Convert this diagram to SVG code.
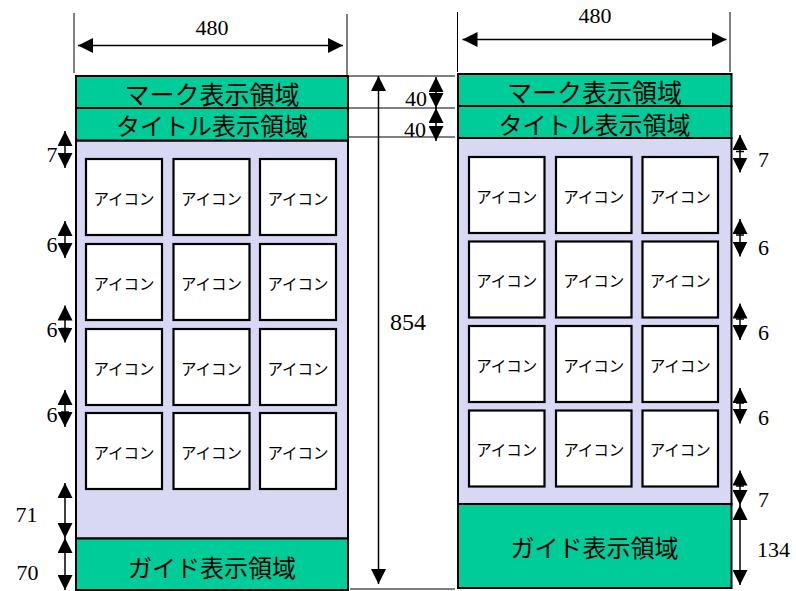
<svg xmlns="http://www.w3.org/2000/svg" width="796" height="591" viewBox="0 0 796 591">
<style>
.bg{fill:#ffffff}
.green{fill:#00CC99;stroke:#000;stroke-width:2}
.blue{fill:#D8D8F5;stroke:#000;stroke-width:2}
.ibox{fill:#ffffff;stroke:#000;stroke-width:2.2}
.itxt{font-family:"Noto Sans CJK JP","Noto Sans",sans-serif;font-size:15.5px;text-anchor:middle;fill:#000}
.area{font-family:"Noto Sans CJK JP","Noto Sans",sans-serif;font-size:24px;text-anchor:middle;fill:#000}
.mk{font-size:25px}
.num{font-family:"Liberation Serif","Times New Roman",serif;font-size:22px;fill:#000}
.ext{stroke:#000;stroke-width:1;fill:none}
.dim{stroke:#000;stroke-width:1.5;fill:none;marker-start:url(#ah);marker-end:url(#ah)}
.dim1{stroke:#000;stroke-width:1.5;fill:none}
</style>
<defs>
<marker id="ah" viewBox="0 0 15 15" refX="15" refY="7.5" markerWidth="15" markerHeight="15" markerUnits="userSpaceOnUse" orient="auto-start-reverse"><path d="M0,0 L15,7.5 L0,15 z" fill="#000"/></marker>
</defs>
<rect class="bg" x="0" y="0" width="796" height="591"/>

<g id="left-screen">
  <g id="left-body"><rect class="blue" x="76" y="140.5" width="272" height="398"/></g>
  <g id="left-mark"><rect class="green" x="76" y="76" width="272" height="32"/><text class="area mk" x="212" y="104">マーク表示領域</text></g>
  <g id="left-title"><rect class="green" x="76" y="108" width="272" height="32.5"/><text class="area" x="212" y="135">タイトル表示領域</text></g>
  <g id="left-guide"><rect class="green" x="76" y="538.5" width="272" height="51.5"/><text class="area" x="212" y="577">ガイド表示領域</text></g>
  <g id="left-icons">
    <g id="L11"><rect class="ibox" x="86" y="159" width="76" height="76"/><text class="itxt" x="124" y="204.5">アイコン</text></g>
    <g id="L12"><rect class="ibox" x="173.5" y="159" width="76" height="76"/><text class="itxt" x="211.5" y="204.5">アイコン</text></g>
    <g id="L13"><rect class="ibox" x="260" y="159" width="76" height="76"/><text class="itxt" x="298" y="204.5">アイコン</text></g>
    <g id="L21"><rect class="ibox" x="86" y="244" width="76" height="76"/><text class="itxt" x="124" y="289.5">アイコン</text></g>
    <g id="L22"><rect class="ibox" x="173.5" y="244" width="76" height="76"/><text class="itxt" x="211.5" y="289.5">アイコン</text></g>
    <g id="L23"><rect class="ibox" x="260" y="244" width="76" height="76"/><text class="itxt" x="298" y="289.5">アイコン</text></g>
    <g id="L31"><rect class="ibox" x="86" y="329" width="76" height="76"/><text class="itxt" x="124" y="374.5">アイコン</text></g>
    <g id="L32"><rect class="ibox" x="173.5" y="329" width="76" height="76"/><text class="itxt" x="211.5" y="374.5">アイコン</text></g>
    <g id="L33"><rect class="ibox" x="260" y="329" width="76" height="76"/><text class="itxt" x="298" y="374.5">アイコン</text></g>
    <g id="L41"><rect class="ibox" x="86" y="413" width="76" height="76"/><text class="itxt" x="124" y="458.5">アイコン</text></g>
    <g id="L42"><rect class="ibox" x="173.5" y="413" width="76" height="76"/><text class="itxt" x="211.5" y="458.5">アイコン</text></g>
    <g id="L43"><rect class="ibox" x="260" y="413" width="76" height="76"/><text class="itxt" x="298" y="458.5">アイコン</text></g>
  </g>
</g>

<g id="right-screen">
  <g id="right-body"><rect class="blue" x="458" y="138" width="273.5" height="366"/></g>
  <g id="right-mark"><rect class="green" x="458" y="74" width="273.5" height="32"/><text class="area mk" x="594.5" y="102">マーク表示領域</text></g>
  <g id="right-title"><rect class="green" x="458" y="106" width="273.5" height="32"/><text class="area" x="594.5" y="134">タイトル表示領域</text></g>
  <g id="right-guide"><rect class="green" x="458" y="504" width="273.5" height="84"/><text class="area" x="594.5" y="557">ガイド表示領域</text></g>
  <g id="right-icons">
    <g id="R11"><rect class="ibox" x="469" y="157" width="75.5" height="76"/><text class="itxt" x="506.75" y="202.5">アイコン</text></g>
    <g id="R12"><rect class="ibox" x="556" y="157" width="75.5" height="76"/><text class="itxt" x="593.75" y="202.5">アイコン</text></g>
    <g id="R13"><rect class="ibox" x="642.5" y="157" width="75.5" height="76"/><text class="itxt" x="680.25" y="202.5">アイコン</text></g>
    <g id="R21"><rect class="ibox" x="469" y="241.5" width="75.5" height="76"/><text class="itxt" x="506.75" y="287">アイコン</text></g>
    <g id="R22"><rect class="ibox" x="556" y="241.5" width="75.5" height="76"/><text class="itxt" x="593.75" y="287">アイコン</text></g>
    <g id="R23"><rect class="ibox" x="642.5" y="241.5" width="75.5" height="76"/><text class="itxt" x="680.25" y="287">アイコン</text></g>
    <g id="R31"><rect class="ibox" x="469" y="326" width="75.5" height="76"/><text class="itxt" x="506.75" y="371.5">アイコン</text></g>
    <g id="R32"><rect class="ibox" x="556" y="326" width="75.5" height="76"/><text class="itxt" x="593.75" y="371.5">アイコン</text></g>
    <g id="R33"><rect class="ibox" x="642.5" y="326" width="75.5" height="76"/><text class="itxt" x="680.25" y="371.5">アイコン</text></g>
    <g id="R41"><rect class="ibox" x="469" y="410.5" width="75.5" height="76"/><text class="itxt" x="506.75" y="456">アイコン</text></g>
    <g id="R42"><rect class="ibox" x="556" y="410.5" width="75.5" height="76"/><text class="itxt" x="593.75" y="456">アイコン</text></g>
    <g id="R43"><rect class="ibox" x="642.5" y="410.5" width="75.5" height="76"/><text class="itxt" x="680.25" y="456">アイコン</text></g>
  </g>
</g>

<g id="connectors">
  <line class="ext" x1="74" y1="13" x2="74" y2="73"/>
  <line class="ext" x1="347" y1="14" x2="347" y2="75"/>
  <line class="ext" x1="457.5" y1="12" x2="457.5" y2="72"/>
  <line class="ext" x1="730" y1="12" x2="730" y2="72"/>
  <line class="ext" x1="349" y1="76" x2="455" y2="76"/>
  <line class="ext" x1="349" y1="108" x2="455" y2="108"/>
  <line class="ext" x1="349" y1="137" x2="455" y2="137"/>
  <line class="ext" x1="350" y1="589" x2="455" y2="589"/>
  <line class="dim" x1="78" y1="45.5" x2="343" y2="45.5"/>
  <line class="dim" x1="462.5" y1="39.5" x2="726.5" y2="39.5"/>
  <line class="dim" x1="378.5" y1="76" x2="378.5" y2="584"/>
  <line class="dim" x1="436" y1="77" x2="436" y2="108"/>
  <line class="dim" x1="436" y1="108" x2="436" y2="141"/>
  <line class="dim" x1="65" y1="131" x2="65" y2="168"/>
  <line class="dim1" x1="61" y1="154" x2="69" y2="154"/>
  <line class="dim" x1="65" y1="221" x2="65" y2="258"/>
  <line class="dim1" x1="61" y1="244" x2="69" y2="244"/>
  <line class="dim" x1="65" y1="305.5" x2="65" y2="342.5"/>
  <line class="dim1" x1="61" y1="328.5" x2="69" y2="328.5"/>
  <line class="dim" x1="65" y1="390" x2="65" y2="427"/>
  <line class="dim1" x1="61" y1="412" x2="69" y2="412"/>
  <line class="dim" x1="65" y1="483" x2="65" y2="538"/>
  <line class="dim" x1="65" y1="538" x2="65" y2="590"/>
  <line class="dim" x1="740" y1="135" x2="740" y2="172.5"/>
  <line class="dim1" x1="736" y1="151.5" x2="744" y2="151.5"/>
  <line class="dim" x1="740" y1="219" x2="740" y2="256.5"/>
  <line class="dim1" x1="736" y1="235" x2="744" y2="235"/>
  <line class="dim" x1="740" y1="303.5" x2="740" y2="340"/>
  <line class="dim1" x1="736" y1="319" x2="744" y2="319"/>
  <line class="dim" x1="740" y1="388" x2="740" y2="423.5"/>
  <line class="dim1" x1="736" y1="403" x2="744" y2="403"/>
  <line class="dim" x1="740" y1="470.5" x2="740" y2="505"/>
  <line class="dim1" x1="736" y1="486" x2="744" y2="486"/>
  <line class="dim" x1="740" y1="505" x2="740" y2="585"/>
</g>

<g id="labels">
  <text class="num" x="212" y="35" text-anchor="middle">480</text>
  <text class="num" x="595" y="23" text-anchor="middle">480</text>
  <text class="num" x="408" y="330" text-anchor="middle" style="font-size:24px">854</text>
  <text class="num" x="427" y="105.5" text-anchor="end">40</text>
  <text class="num" x="426" y="137" text-anchor="end">40</text>
  <text class="num" x="57.5" y="162" text-anchor="end">7</text>
  <text class="num" x="57.5" y="252" text-anchor="end">6</text>
  <text class="num" x="57.5" y="337" text-anchor="end">6</text>
  <text class="num" x="57.5" y="422" text-anchor="end">6</text>
  <text class="num" x="37.5" y="522" text-anchor="end">71</text>
  <text class="num" x="38.5" y="580" text-anchor="end">70</text>
  <text class="num" x="758" y="167">7</text>
  <text class="num" x="758" y="255">6</text>
  <text class="num" x="758" y="340">6</text>
  <text class="num" x="758" y="425">6</text>
  <text class="num" x="758" y="507">7</text>
  <text class="num" x="757" y="557">134</text>
</g>
</svg>
